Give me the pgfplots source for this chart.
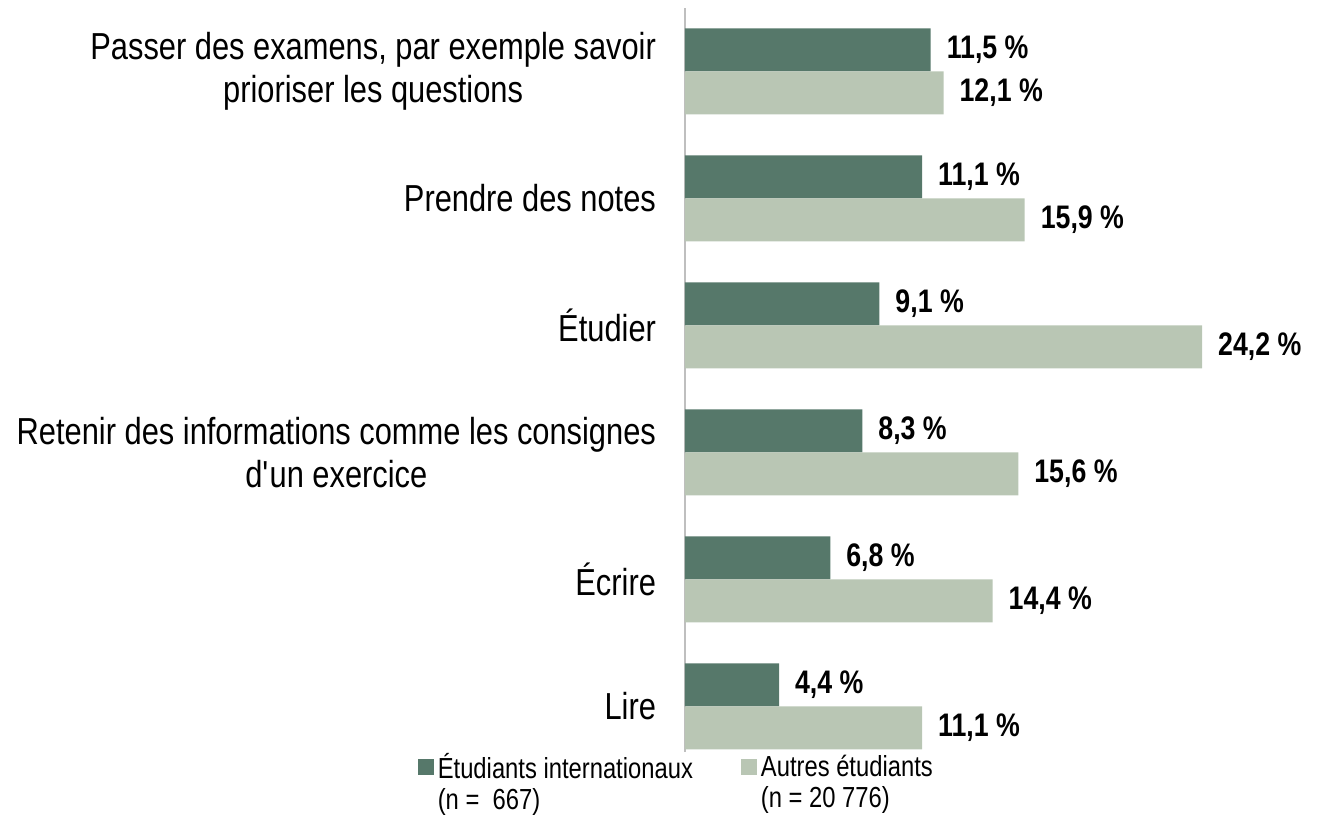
\documentclass[border=0pt]{standalone}
\usepackage{fontspec}
\setmainfont{Liberation Sans}[FakeStretch=0.82]
\usepackage{pgfplots}
\pgfplotsset{compat=1.18}
\definecolor{dk}{HTML}{56786A}
\definecolor{lt}{HTML}{B9C6B4}
\begin{document}
\begin{tikzpicture}
\path[use as bounding box] (-342.5pt,-31.5pt) rectangle (320.5pt,376pt);
\begin{axis}[at={(0,0)}, anchor=south west, scale only axis,
  width=320.5pt, height=372pt,
  xmin=0, xmax=30, ymin=-0.36, ymax=5.5,
  xbar, bar width=21.5pt,
  axis y line*=left, axis x line=none,
  y axis line style={draw=black!25, line width=1pt, -},
  xtick=\empty,
  ytick={0,...,5},
  yticklabels={Lire, Écrire, {Retenir des informations comme les consignes\\d\textquotesingle un exercice}, Étudier, Prendre des notes, {Passer des examens, par exemple savoir\\prioriser les questions}},
  yticklabel style={font=\fontsize{18.8}{21.5}\selectfont, align=center, xshift=-11pt},
  major tick length=0pt,
  point meta=explicit symbolic,
  nodes near coords,
  every node near coord/.append style={font=\bfseries\fontsize{16.3}{18}\selectfont, anchor=west, xshift=4.5pt, text=black},
  clip=false,
  legend columns=2,
  legend style={draw=none, fill=none, at={(axis description cs:-0.012,-0.041)}, anchor=center,
    font=\fontsize{14.5}{15.5}\selectfont, cells={align=left},
    /tikz/every even column/.append style={column sep=22pt}},
  legend cell align=left,
  legend image code/.code={\fill[#1] (0pt,4pt) rectangle (8pt,12pt);},
]
\addplot[fill=dk, draw=none, bar shift=10.75pt] coordinates {
  (4.4,0) [4,4 \%]
  (6.8,1) [6,8 \%]
  (8.3,2) [8,3 \%]
  (9.1,3) [9,1 \%]
  (11.1,4) [11,1 \%]
  (11.5,5) [11,5 \%]
};
\addplot[fill=lt, draw=none, bar shift=-10.75pt] coordinates {
  (11.1,0) [11,1 \%]
  (14.4,1) [14,4 \%]
  (15.6,2) [15,6 \%]
  (24.2,3) [24,2 \%]
  (15.9,4) [15,9 \%]
  (12.1,5) [12,1 \%]
};
\legend{Étudiants internationaux\\(n =\ \ 667), Autres étudiants\\(n = 20 776)}
\end{axis}
\end{tikzpicture}
\end{document}
